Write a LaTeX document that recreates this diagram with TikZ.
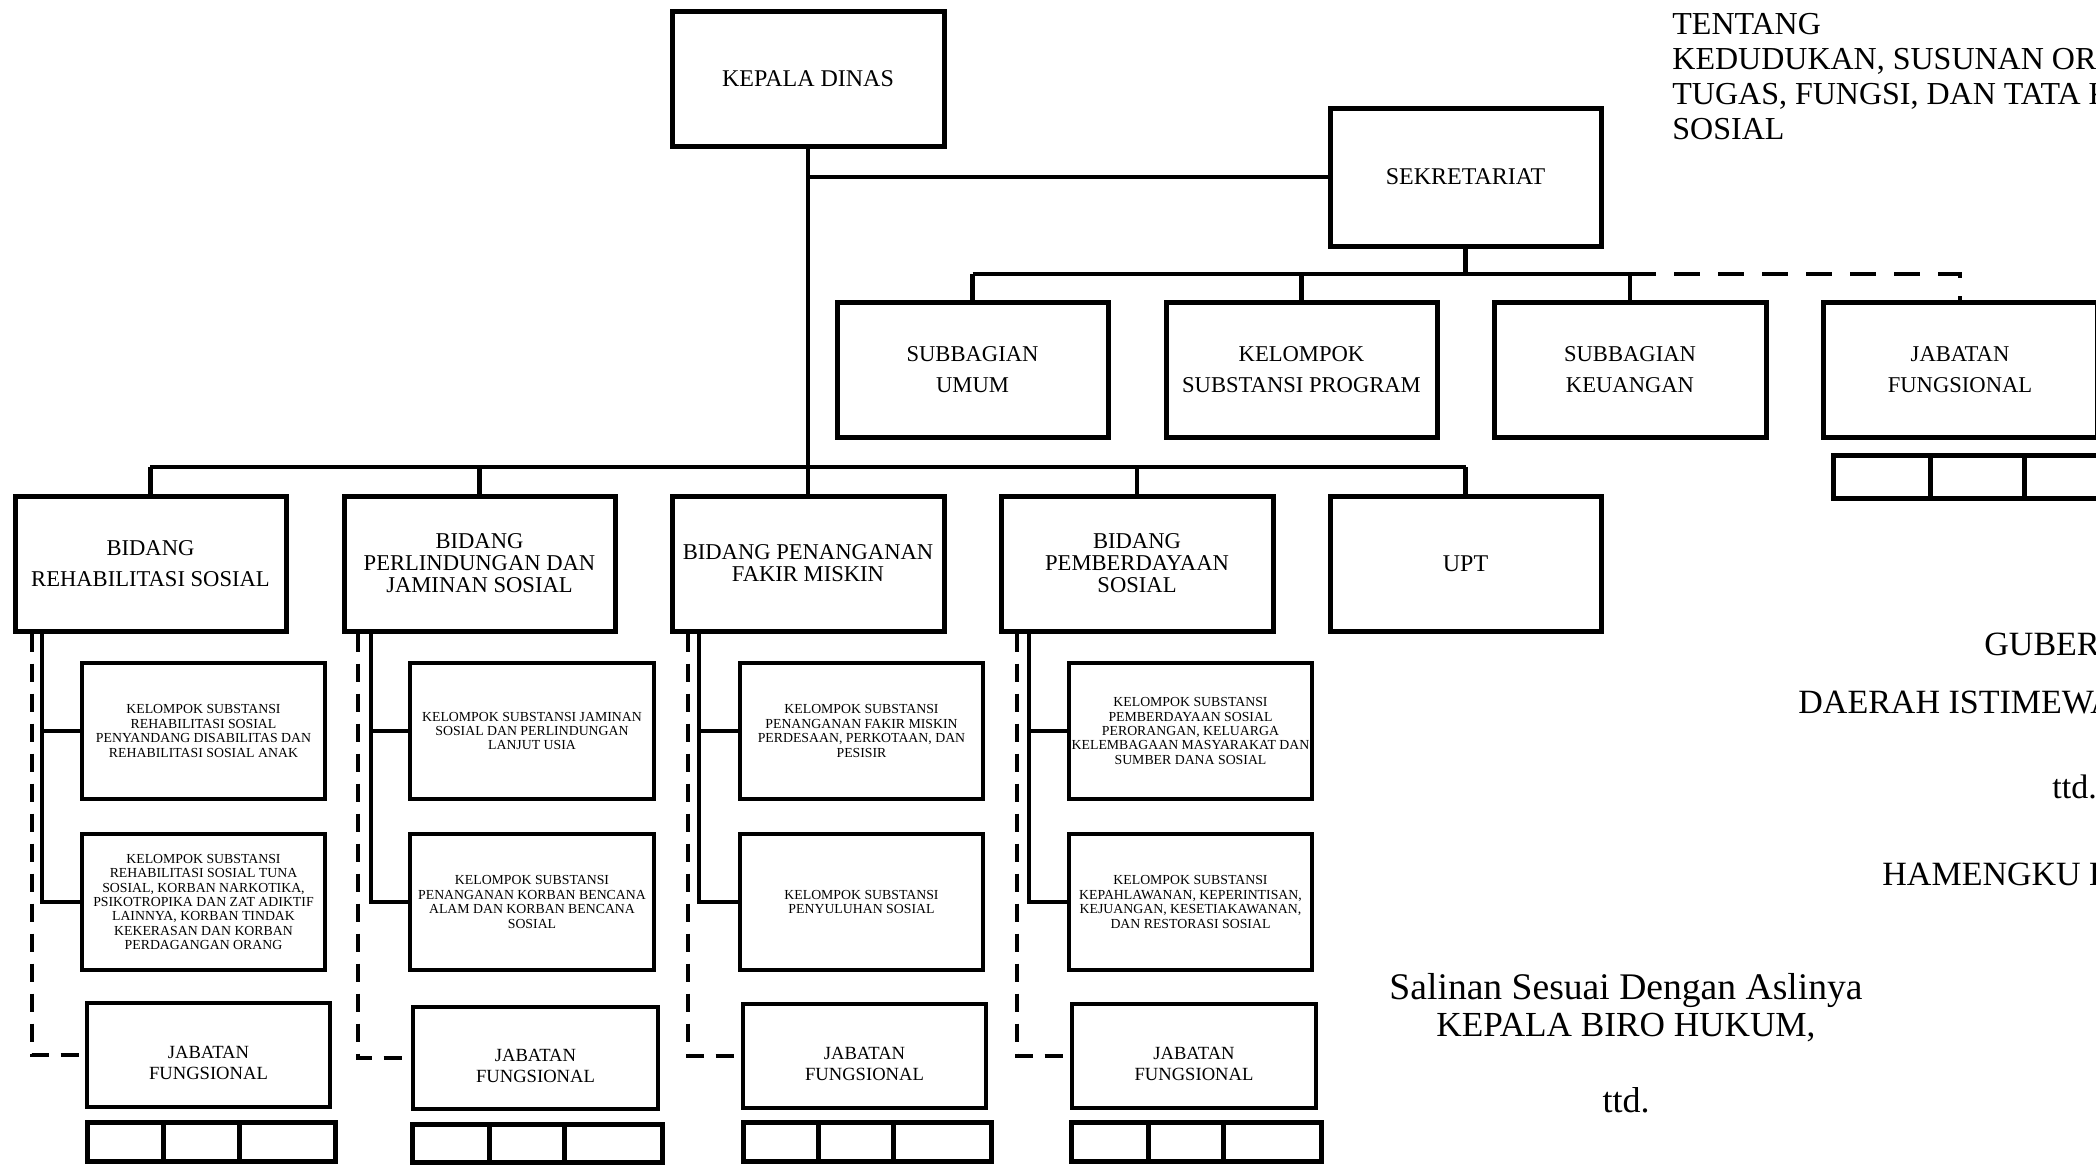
\documentclass[tikz,border=0pt]{standalone}
\usepackage{fontspec}
\setmainfont{Liberation Serif}
\newcommand\bx[7][]{%
  \pgfmathsetmacro\bxcx{(#3+#5)/2}%
  \pgfmathsetmacro\bxcy{(#4+#6)/2}%
  \pgfmathsetmacro\bxw{(#5-#3)*0.5}%
  \pgfmathsetmacro\bxh{(#6-#4)*0.5}%
  \node[orgbox,#1,minimum width=\bxw pt,minimum height=\bxh pt] (#2) at (\bxcx,\bxcy) {#7};}
\newcommand\jftext{\rule{0pt}{14pt}JABATAN\\FUNGSIONAL}
\tikzset{
  orgbox/.style={draw, line width=2.5pt, inner sep=0.5pt, align=center,
    font=\fontsize{11.3}{15.5}\selectfont},
  big/.style={font=\fontsize{12}{15.5}\selectfont},
  tight/.style={font=\fontsize{11.3}{11}\selectfont},
  kel/.style={line width=2.3pt, font=\fontsize{6.9}{7.2}\selectfont},
  jf/.style={line width=2.3pt, font=\fontsize{9.3}{10.7}\selectfont},
  conn/.style={line width=2.2pt},
  dsh/.style={line width=2pt, dash pattern=on 9pt off 6pt},
  topdsh/.style={line width=2.2pt, dash pattern=on 13pt off 9pt},
  cell/.style={line width=2.5pt},
  hdr/.style={anchor=base west, inner sep=0pt, font=\fontsize{16}{17.5}\selectfont},
  sig/.style={anchor=base west, inner sep=0pt, font=\fontsize{17}{20}\selectfont},
  cop/.style={anchor=base, inner sep=0pt, font=\fontsize{18}{20}\selectfont},
}
\begin{document}
\begin{tikzpicture}[x=0.5pt,y=-0.5pt]
\useasboundingbox (0,0) rectangle (2096,1164);
\clip (0,0) rectangle (2096,1164);
% top level
\bx[big]{kd}{672}{11}{944}{146}{KEPALA DINAS}
\bx[big]{sek}{1330}{108}{1601}{246}{SEKRETARIAT}
% secretariat children
\bx{s1}{837}{302}{1108}{437}{SUBBAGIAN\\UMUM}
\bx{s2}{1166}{302}{1437}{437}{KELOMPOK\\SUBSTANSI PROGRAM}
\bx{s3}{1494}{302}{1766}{437}{SUBBAGIAN\\KEUANGAN}
\bx{s4}{1823}{302}{2097}{437}{JABATAN\\FUNGSIONAL}
% bidang
\bx{b1}{15}{496}{286}{631}{BIDANG\\REHABILITASI SOSIAL}
\bx[tight]{b2}{344}{496}{615}{631}{BIDANG\\PERLINDUNGAN DAN\\JAMINAN SOSIAL}
\bx[tight]{b3}{672}{496}{944}{631}{BIDANG PENANGANAN\\FAKIR MISKIN}
\bx[tight]{b4}{1001}{496}{1273}{631}{BIDANG\\PEMBERDAYAAN\\SOSIAL}
\bx[big]{upt}{1330}{496}{1601}{631}{UPT}
% kelompok
\bx[kel]{k11}{82}{663}{325}{799}{KELOMPOK SUBSTANSI\\REHABILITASI SOSIAL\\PENYANDANG DISABILITAS DAN\\REHABILITASI SOSIAL ANAK}
\bx[kel]{k12}{82}{834}{325}{970}{KELOMPOK SUBSTANSI\\REHABILITASI SOSIAL TUNA\\SOSIAL, KORBAN NARKOTIKA,\\PSIKOTROPIKA DAN ZAT ADIKTIF\\LAINNYA, KORBAN TINDAK\\KEKERASAN DAN KORBAN\\PERDAGANGAN ORANG}
\bx[kel]{k21}{410}{663}{654}{799}{KELOMPOK SUBSTANSI JAMINAN\\SOSIAL DAN PERLINDUNGAN\\LANJUT USIA}
\bx[kel]{k22}{410}{834}{654}{970}{KELOMPOK SUBSTANSI\\PENANGANAN KORBAN BENCANA\\ALAM DAN KORBAN BENCANA\\SOSIAL}
\bx[kel]{k31}{740}{663}{983}{799}{KELOMPOK SUBSTANSI\\PENANGANAN FAKIR MISKIN\\PERDESAAN, PERKOTAAN, DAN\\PESISIR}
\bx[kel]{k32}{740}{834}{983}{970}{KELOMPOK SUBSTANSI\\PENYULUHAN SOSIAL}
\bx[kel]{k41}{1069}{663}{1312}{799}{KELOMPOK SUBSTANSI\\PEMBERDAYAAN SOSIAL\\PERORANGAN, KELUARGA\\KELEMBAGAAN MASYARAKAT DAN\\SUMBER DANA SOSIAL}
\bx[kel]{k42}{1069}{834}{1312}{970}{KELOMPOK SUBSTANSI\\KEPAHLAWANAN, KEPERINTISAN,\\KEJUANGAN, KESETIAKAWANAN,\\DAN RESTORASI SOSIAL}
% jabatan fungsional
\bx[jf]{j1}{87}{1003}{330}{1107}{\jftext}
\bx[jf]{j2}{413}{1007}{658}{1109}{\jftext}
\bx[jf]{j3}{743}{1004}{986}{1108}{\jftext}
\bx[jf]{j4}{1072}{1004}{1316}{1108}{\jftext}
% buses
\coordinate (busL) at (150,467);
\coordinate (busR) at (1466,467);
\coordinate (sbus) at (0,274);
\draw[conn] (kd.south) -- (kd.south |- busL);
\draw[conn] (sek.west) -- (sek.west -| kd.south);
\draw[conn] (busL) -- (busR);
\foreach \n in {b1,b2,b3,b4,upt} \draw[conn] (\n.north) -- (\n.north |- busL);
\draw[conn] (sek.south) -- (sek.south |- sbus);
\draw[conn] (s1.north |- sbus) -- (s3.north |- sbus);
\foreach \n in {s1,s2,s3} \draw[conn] (\n.north) -- (\n.north |- sbus);
\draw[topdsh] (s3.north |- sbus) -- (s4.north |- sbus) -- (s4.north);
% bidang sub connectors
\coordinate (v1) at (42,0);   \coordinate (d1) at (32,0);
\coordinate (v2) at (371,0);  \coordinate (d2) at (358,0);
\coordinate (v3) at (699,0);  \coordinate (d3) at (688,0);
\coordinate (v4) at (1029,0); \coordinate (d4) at (1017,0);
\foreach \i in {1,2,3,4}{
  \draw[conn] (b\i.south -| v\i) -- (k\i2.west -| v\i) -- (k\i2.west);
  \draw[conn] (k\i1.west -| v\i) -- (k\i1.west);
  \draw[dsh] (b\i.south -| d\i) -- (j\i.west -| d\i) -- (j\i.west);
}
% cells under jabatan fungsional
\draw[cell] (87,1122) rectangle (335,1161) (163,1122) -- (163,1161) (239,1122) -- (239,1161);
\draw[cell] (412,1124) rectangle (662,1162) (489,1124) -- (489,1162) (564,1124) -- (564,1162);
\draw[cell] (743,1122) rectangle (991,1161) (818,1122) -- (818,1161) (893,1122) -- (893,1161);
\draw[cell] (1071,1122) rectangle (1321,1161) (1148,1122) -- (1148,1161) (1223,1122) -- (1223,1161);
\draw[cell] (1833,455) rectangle (2118,498) (1930,455) -- (1930,498) (2024,455) -- (2024,498);
% header text
\node[hdr] (h1) at (1672,34) {TENTANG};
\node[hdr] (h2) at (1672,69) {KEDUDUKAN, SUSUNAN ORGANISASI,};
\node[hdr] (h3) at (1672,104) {TUGAS, FUNGSI, DAN TATA KERJA DINAS};
\node[hdr] (h4) at (1672,139) {SOSIAL};
% signature block
\node[sig] (g1) at (1984,655) {GUBERNUR};
\node[sig] (g2) at (1798,713) {DAERAH ISTIMEWA YOGYAKARTA,};
\node[sig] (g3) at (2052,798) {ttd.};
\node[sig] (g4) at (1882,885) {HAMENGKU BUWONO X};
% copy note
\node[cop, font=\fontsize{18.8}{20}\selectfont] (c1) at (1626,999) {Salinan Sesuai Dengan Aslinya};
\node[cop, font=\fontsize{17.6}{20}\selectfont] (c2) at (1626,1036) {KEPALA BIRO HUKUM,};
\node[cop] (c3) at (1626,1112) {ttd.};
\end{tikzpicture}
\end{document}
